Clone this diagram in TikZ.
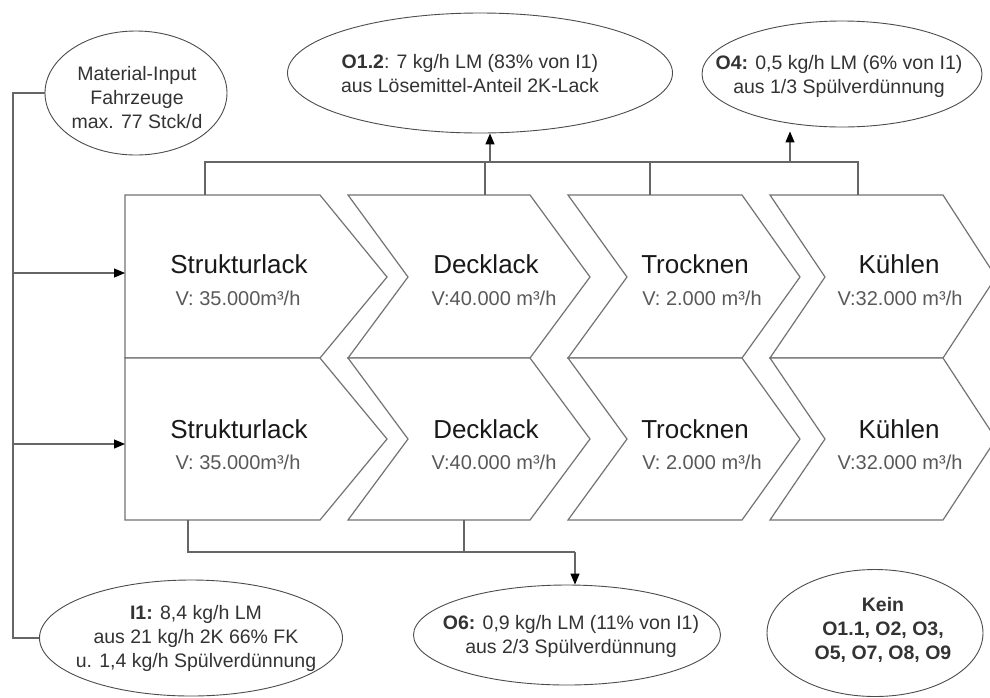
\documentclass[tikz,border=0pt]{standalone}
\usepackage{fontspec}
\setmainfont{Liberation Sans}
\usetikzlibrary{shapes.geometric,arrows.meta}

\begin{document}
\begin{tikzpicture}[x=1pt,y=-1pt,
  wire/.style={draw=black!60,line width=1.2pt},
  arr/.style={wire,-{Triangle[length=11pt,width=9pt,color=black]}},
  chev/.style={draw=black!55,line width=1.2pt,fill=white,line join=miter},
  bubble/.style={ellipse,draw=black!70,line width=0.9pt,inner sep=0pt,fill=white},
  btext/.style={font=\fontsize{19.5}{24}\selectfont,text=black!80,align=center,inner sep=0pt,anchor=base},
  title/.style={font=\fontsize{26}{30}\selectfont,text=black!90,inner sep=0pt,anchor=base},
  subtitle/.style={font=\fontsize{20}{24}\selectfont,text=black!65,inner sep=0pt,anchor=base},
]
\useasboundingbox (0,0) rectangle (990,697);
\fill[white] (0,0) rectangle (990,697);
\clip (0,0) rectangle (990,697);

% process chevrons, two identical lines
\foreach \t/\m/\b in {195/277/358, 358/439/520} {
  \draw[chev] (125,\t) -- (320,\t) -- (387,\m) -- (320,\b) -- (125,\b) -- cycle;
  \foreach \L/\N/\R/\T in {348/408/530/590, 568/627/742/800, 770/825/943/996}
    \draw[chev] (\L,\t) -- (\R,\t) -- (\T,\m) -- (\R,\b) -- (\L,\b) -- (\N,\m) -- cycle;
}

% step labels, upper line
\node[title]    (s1) at (239,273) {Strukturlack};
\node[subtitle] (s1v) at (238,305) {V: 35.000m³/h};
\node[title]    (d1) at (486,273) {Decklack};
\node[subtitle] (d1v) at (494,305) {V:40.000 m³/h};
\node[title]    (t1) at (695,273) {Trocknen};
\node[subtitle] (t1v) at (702,305) {V: 2.000 m³/h};
\node[title]    (k1) at (899,273) {Kühlen};
\node[subtitle] (k1v) at (900,305) {V:32.000 m³/h};
% step labels, lower line
\node[title]    (s2) at (239,438) {Strukturlack};
\node[subtitle] (s2v) at (238,469) {V: 35.000m³/h};
\node[title]    (d2) at (486,438) {Decklack};
\node[subtitle] (d2v) at (494,469) {V:40.000 m³/h};
\node[title]    (t2) at (695,438) {Trocknen};
\node[subtitle] (t2v) at (702,469) {V: 2.000 m³/h};
\node[title]    (k2) at (899,438) {Kühlen};
\node[subtitle] (k2v) at (900,469) {V:32.000 m³/h};

% balance ellipses
\node[bubble,minimum width=182pt,minimum height=124pt] (mat) at (136,93) {};
\node[bubble,minimum width=385pt,minimum height=120pt] (o12) at (480,73) {};
\node[bubble,minimum width=280pt,minimum height=106pt] (o4) at (842,74) {};
\node[bubble,minimum width=303pt,minimum height=116pt] (i1) at (191,638) {};
\node[bubble,minimum width=307pt,minimum height=100pt] (o6) at (567,635) {};
\node[bubble,minimum width=216pt,minimum height=127pt] (kein) at (875,633) {};

% texts, anchored on the baseline of their last line
\node[btext] (matx) at (137,128) {Material-Input\\Fahrzeuge\\max. 77 Stck/d};
\node[btext] (o12x) at (470,92) {\textbf{O1.2}: 7 kg/h LM (83\% von I1)\\aus Lösemittel-Anteil 2K-Lack};
\node[btext] (o4x) at (839,93) {\textbf{O4:} 0,5 kg/h LM (6\% von I1)\\aus 1/3 Spülverdünnung};
\node[btext] (i1x) at (196,667) {\textbf{I1:} 8,4 kg/h LM\\aus 21 kg/h 2K 66\% FK\\u. 1,4 kg/h Spülverdünnung};
\node[btext] (o6x) at (571,653) {\textbf{O6:} 0,9 kg/h LM (11\% von I1)\\aus 2/3 Spülverdünnung};
\node[btext,font=\fontsize{19.5}{24}\selectfont\bfseries] (keinx) at (883,659) {Kein\\O1.1, O2, O3,\\O5, O7, O8, O9};

% connection points
\coordinate (bus) at (13,0);
\coordinate (in1) at (125,273);
\coordinate (in2) at (125,444);
\coordinate (s1top) at (205,195);
\coordinate (d1top) at (485,195);
\coordinate (t1top) at (650,195);
\coordinate (k1top) at (858,195);
\coordinate (topbus) at (0,162);
\coordinate (up12) at (490,162);
\coordinate (up4) at (790,162);
\coordinate (s2bot) at (188,520);
\coordinate (d2bot) at (464,520);
\coordinate (botbus) at (575,552);

% material input feed
\draw[wire] (mat.west) -- (mat.west -| bus) -- (i1.west -| bus) -- (i1.west);
\draw[arr] (in1 -| bus) -- (in1);
\draw[arr] (in2 -| bus) -- (in2);

% exhaust collection above
\draw[wire] (s1top) -- (s1top |- topbus) -- (k1top |- topbus) -- (k1top);
\draw[wire] (d1top) -- (d1top |- topbus);
\draw[wire] (t1top) -- (t1top |- topbus);
\draw[arr] (up12) -- (up12 |- o12.south);
\draw[arr,shorten >=4pt] (up4) -- (up4 |- o4.south);

% collection below
\draw[wire] (s2bot) -- (s2bot |- botbus) -- (botbus);
\draw[wire] (d2bot) -- (d2bot |- botbus);
\draw[arr] (botbus) -- (botbus |- o6.north);
\end{tikzpicture}
\end{document}
